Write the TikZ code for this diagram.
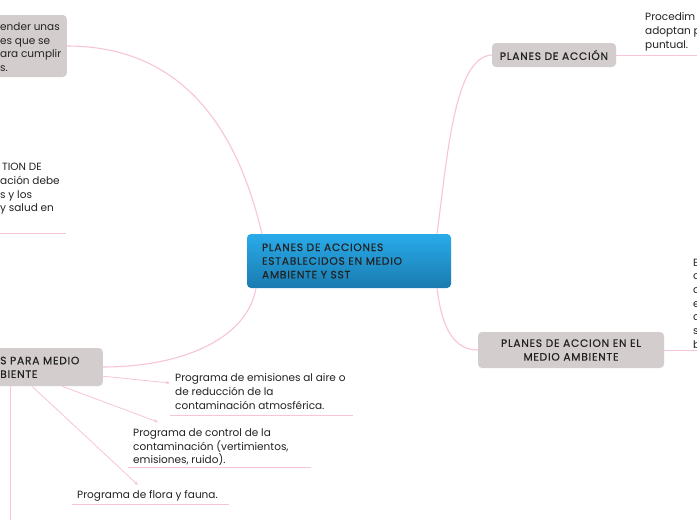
\documentclass[tikz,border=0pt]{standalone}
\usepackage{fontspec}
\setmainfont{Poppins}
\newfontfamily\capsfont{Poppins}[LetterSpace=7, FakeBold=0.3]
\usetikzlibrary{arrows.meta,calc}
\definecolor{pinkline}{HTML}{F8C4DB}
\definecolor{greyfill}{HTML}{D3CDCD}
\definecolor{bluetop}{HTML}{29ABE9}
\definecolor{bluebot}{HTML}{1A7BB0}
\definecolor{txtcol}{HTML}{222222}
\begin{document}
\begin{tikzpicture}[x=1pt,y=-1pt,
  every node/.style={font=\fontsize{10.5}{13.7}\selectfont, text=txtcol},
  capstext/.style={font=\capsfont\fontsize{10.7}{13.7}\selectfont},
  rootbox/.style={rectangle, rounded corners=4pt, top color=bluetop, bottom color=bluebot, minimum width=204pt, minimum height=54pt, text width=174pt, inner xsep=15pt, align=left, capstext},
  greybox/.style={rectangle, rounded corners=4pt, fill=greyfill, capstext},
  txt/.style={inner sep=0pt, align=left, anchor=north west},
  conn/.style={draw=pinkline, line width=1.1pt},
  sub/.style={draw=pinkline, line width=0.8pt, -{Stealth[length=4pt,width=3pt]}},
  uline/.style={draw=pinkline, line width=1pt}]
\fill[white] (0,0) rectangle (697,520);
\useasboundingbox (0,0) rectangle (697,520);

% boxes
\node[rootbox] (root) at (349,261) {PLANES DE ACCIONES\\ESTABLECIDOS EN MEDIO\\AMBIENTE Y SST};
\node[greybox, anchor=east, minimum width=120pt, minimum height=62pt] (boxA) at (67,46) {};
\node[txt] (txtA) at (0,22.5) {ender unas\\es que se\\ara cumplir\\s.};
\node[txt] (txtB) at (0,163) {\hspace*{2pt}TION DE\\ación debe\\s y los\\y salud en};
\node[greybox, minimum width=124pt, minimum height=24pt] (boxC) at (554,55) {PLANES DE ACCIÓN};
\node[txt] (txtD) at (645,12.5) {Procedim\\adoptan p\\puntual.};
\node[greybox, minimum width=186pt, minimum height=36pt, align=center] (boxE) at (571,350) {PLANES DE ACCION EN EL\\MEDIO AMBIENTE};
\node[txt] (txtF) at (693,258.5) {E\\c\\c\\e\\c\\s\\b};
\node[greybox, anchor=east, minimum width=130pt, minimum height=38pt] (boxG) at (103,367) {};
\node[txt, capstext] (txtG) at (0,356.5) {S PARA MEDIO\\BIENTE};
\node[txt] (txtH1) at (175,373.5) {Programa de emisiones al aire o\\de reducción de la\\contaminación atmosférica.};
\node[txt] (txtH2) at (133,428.5) {Programa de control de la\\contaminación (vertimientos,\\emisiones, ruido).};
\node[txt] (txtH3) at (77,490.5) {Programa de flora y fauna.};

% coordinates
\coordinate (rootA) at (262,234);
\coordinate (rootC) at (437,234);
\coordinate (rootE) at (437,288);
\coordinate (rootG) at (256,288);
\coordinate (bEnd) at (66,233);
\coordinate (bStart) at (0,233);
\coordinate (dEnd) at (697,55);
\coordinate (fEnd) at (697,350);
\coordinate (h1Tip) at (170,383);
\coordinate (h2Tip) at (158,422);
\coordinate (h3Tip) at (138,485);
\coordinate (gDown) at (10,520);
\coordinate (h1L) at (170,415);
\coordinate (h1R) at (353,415);
\coordinate (h2L) at (128,467);
\coordinate (h2R) at (311,467);
\coordinate (h3L) at (72,504);
\coordinate (h3R) at (229,504);

% main connectors
\draw[conn] (boxA.east) .. controls (190,46) and (240,140) .. (rootA);
\draw[conn] (rootC) .. controls (448,150) and (455,57) .. (boxC.west);
\draw[conn] (rootE) .. controls (442,330) and (455,350) .. (boxE.west);
\draw[conn] (rootG) .. controls (247,340) and (180,367) .. (boxG.east);

% underlines
\draw[uline] (bStart) -- (bEnd);
\draw[uline] (boxC.east) -- (dEnd);
\draw[uline] (boxE.east) -- (fEnd);
\draw[uline] (h1L) -- (h1R);
\draw[uline] (h2L) -- (h2R);
\draw[uline] (h3L) -- (h3R);

% sub connectors
\draw[sub] ($(boxG.south east)+(0,-10)$) -- (h1Tip);
\draw[sub] ($(boxG.south east)+(-41,0)$) -- (h2Tip);
\draw[sub] ($(boxG.south east)+(-71,0)$) -- (h3Tip);
\draw[conn, line width=0.8pt] ($(boxG.south east)+(-93,0)$) -- (gDown);
\end{tikzpicture}
\end{document}
